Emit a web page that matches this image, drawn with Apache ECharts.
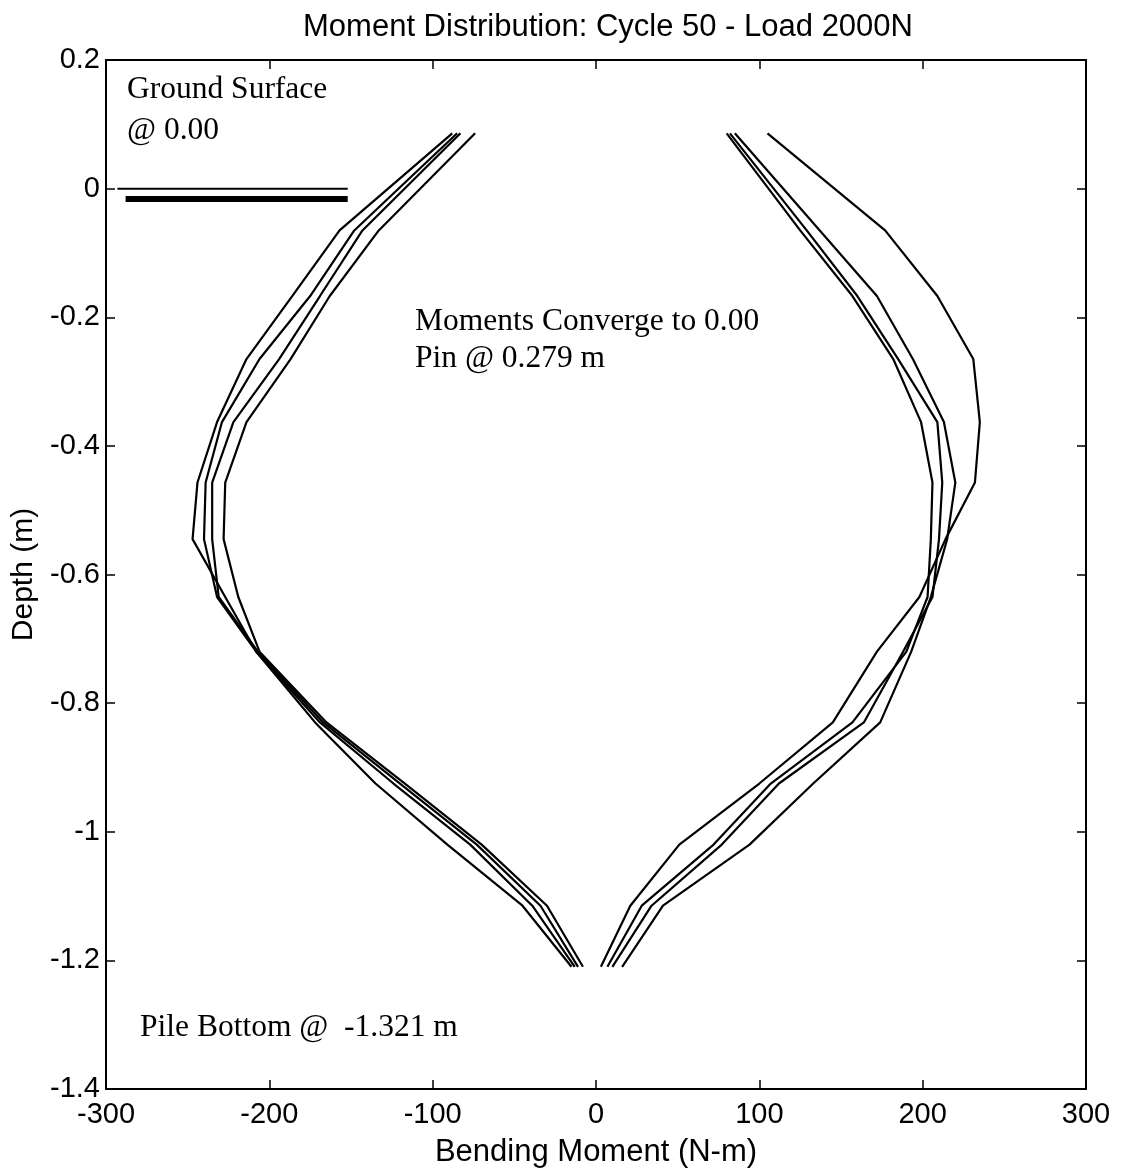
<!DOCTYPE html>
<html>
<head>
<meta charset="utf-8">
<script src="https://cdn.jsdelivr.net/npm/echarts@6/dist/echarts.min.js"></script>
<style>
  html, body { margin: 0; padding: 0; background: #fff; }
  #chart { width: 1123px; height: 1173px; }
</style>
</head>
<body>
<div id="chart"></div>
<script>
// ---- Data ----
const depths = [0.086, -0.065, -0.167, -0.265, -0.363, -0.457, -0.545, -0.635, -0.72, -0.83, -0.925, -1.02, -1.115, -1.21];

// Negative-side moment profiles (N-m)
const left1 = [-88, -157, -186, -214, -232, -244, -247, -227, -208, -172, -135, -91, -45, -15];
const left2 = [-85, -148, -175, -206, -229, -239, -240, -232, -208, -169, -124, -77, -39, -13];
const left3 = [-83, -143, -169, -194, -222, -235, -235, -231, -207, -167, -120, -73, -34, -11];
const left4 = [-74, -133, -163, -187, -214, -227, -228, -219, -206, -165, -117, -70, -30, -8];

// Positive-side moment profiles (N-m)
const right1 = [80, 125, 157, 182, 199, 206, 205, 203, 190, 157, 107, 72, 28, 7];
const right2 = [82, 129, 160, 185, 209, 212, 210, 206, 188, 164, 112, 77, 34, 10];
const right3 = [85, 137, 172, 194, 213, 220, 215, 205, 193, 174, 133, 94, 41, 16];
const right4 = [105, 177, 209, 231, 235, 232, 214, 198, 172, 145, 100, 51, 21, 3];

// Ground surface marker lines (moment range, depth)
const groundThinX = [-293, -152];
const groundThinDepth = 0.0;
const groundThickX = [-288, -152];
const groundThickDepth = -0.016;

// Axis ranges / ticks
const xMin = -300, xMax = 300, xStep = 100;
const yMin = -1.4, yMax = 0.2, yStep = 0.2;

const titleText = 'Moment Distribution: Cycle 50 - Load 2000N';
const xName = 'Bending Moment (N-m)';
const yName = 'Depth (m)';
const notes = ['Ground Surface', '@ 0.00', 'Moments Converge to 0.00', 'Pin @ 0.279 m', 'Pile Bottom @  -1.321 m'];

// ---- Chart ----
const chart = echarts.init(document.getElementById('chart'), null, { renderer: 'canvas' });
const SANS = '"Liberation Sans", Arial, sans-serif';
const SERIF = '"Liberation Serif", "Times New Roman", serif';

function profile(arr) {
  return {
    type: 'line',
    data: depths.map((d, i) => [arr[i], d]),
    showSymbol: false,
    symbol: 'none',
    lineStyle: { color: '#000', width: 2.2 },
    z: 3,
    animation: false
  };
}
function hline(xs, d, w) {
  return {
    type: 'line',
    data: xs.map(x => [x, d]),
    showSymbol: false,
    symbol: 'none',
    lineStyle: { color: '#000', width: w },
    z: 3,
    animation: false
  };
}

const tickStyle = { show: true, inside: true, length: 9, lineStyle: { color: '#000', width: 1.5 } };
const lineStyle = { show: true, onZero: false, lineStyle: { color: '#000', width: 2 } };

const option = {
  backgroundColor: '#fff',
  animation: false,
  grid: { left: 106, right: 37, top: 60, bottom: 83, containLabel: false },
  xAxis: [
    {
      type: 'value', min: xMin, max: xMax, interval: xStep, position: 'bottom',
      axisLine: lineStyle, axisTick: tickStyle, splitLine: { show: false },
      axisLabel: { color: '#000', fontFamily: SANS, fontSize: 29, margin: 11 },
      name: xName, nameLocation: 'middle', nameGap: 48,
      nameTextStyle: { color: '#000', fontFamily: SANS, fontSize: 31 }
    },
    {
      type: 'value', min: xMin, max: xMax, interval: xStep, position: 'top',
      axisLine: lineStyle, axisTick: tickStyle, splitLine: { show: false },
      axisLabel: { show: false }
    }
  ],
  yAxis: [
    {
      type: 'value', min: yMin, max: yMax, interval: yStep, position: 'left',
      axisLine: lineStyle, axisTick: tickStyle, splitLine: { show: false },
      axisLabel: {
        color: '#000', fontFamily: SANS, fontSize: 29, margin: 6,
        formatter: v => String(Math.round(v * 10) / 10)
      },
      name: yName, nameLocation: 'middle', nameGap: 60, nameRotate: 90,
      nameTextStyle: { color: '#000', fontFamily: SANS, fontSize: 30 }
    },
    {
      type: 'value', min: yMin, max: yMax, interval: yStep, position: 'right',
      axisLine: lineStyle, axisTick: tickStyle, splitLine: { show: false },
      axisLabel: { show: false }
    }
  ],
  series: [
    profile(left1), profile(left2), profile(left3), profile(left4),
    profile(right1), profile(right2), profile(right3), profile(right4),
    hline(groundThinX, groundThinDepth, 2),
    hline(groundThickX, groundThickDepth, 6)
  ],
  graphic: [
    { type: 'text', x: 608, y: 27, style: { text: titleText, font: '31px ' + SANS, fill: '#000', textAlign: 'center', textVerticalAlign: 'middle' } },
    { type: 'text', x: 127, y: 90, style: { text: notes[0], font: '31.5px ' + SERIF, fill: '#000', textAlign: 'left', textVerticalAlign: 'middle' } },
    { type: 'text', x: 127, y: 131, style: { text: notes[1], font: '31.5px ' + SERIF, fill: '#000', textAlign: 'left', textVerticalAlign: 'middle' } },
    { type: 'text', x: 415, y: 322, style: { text: notes[2], font: '31.5px ' + SERIF, fill: '#000', textAlign: 'left', textVerticalAlign: 'middle' } },
    { type: 'text', x: 415, y: 359, style: { text: notes[3], font: '31.5px ' + SERIF, fill: '#000', textAlign: 'left', textVerticalAlign: 'middle' } },
    { type: 'text', x: 140, y: 1028, style: { text: notes[4], font: '31.5px ' + SERIF, fill: '#000', textAlign: 'left', textVerticalAlign: 'middle' } }
  ]
};
chart.setOption(option);
</script>
</body>
</html>
